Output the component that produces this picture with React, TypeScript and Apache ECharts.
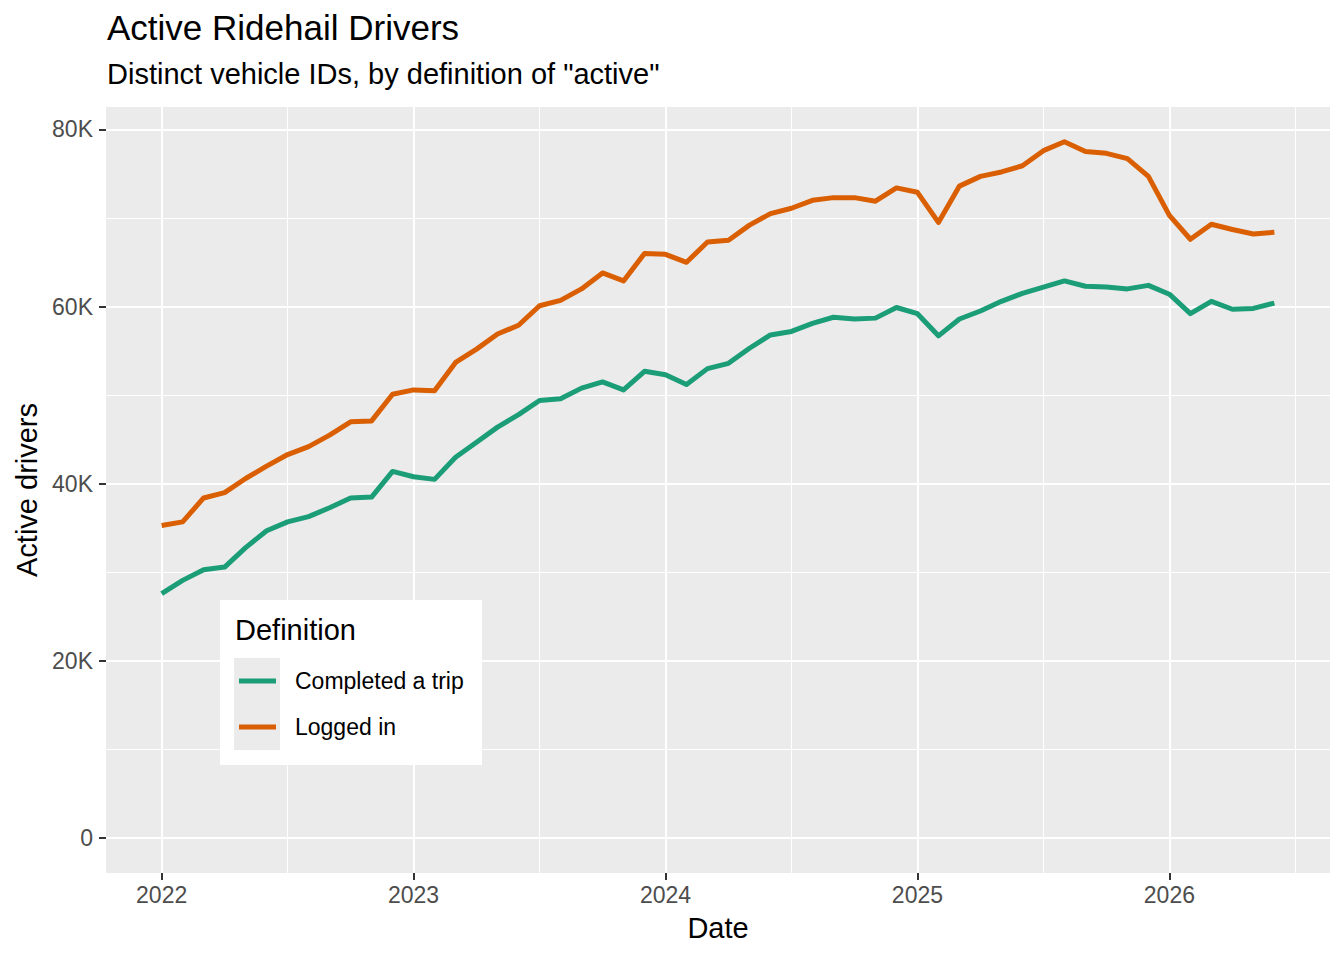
import React, { useEffect, useRef } from "react";
import * as echarts from "echarts";

const FONT = "'Liberation Sans', Arial, Helvetica, sans-serif";

// monthly observations, Jan 2022 .. Jun 2026
const months = [
  "2022-01", "2022-02", "2022-03", "2022-04", "2022-05", "2022-06",
  "2022-07", "2022-08", "2022-09", "2022-10", "2022-11", "2022-12",
  "2023-01", "2023-02", "2023-03", "2023-04", "2023-05", "2023-06",
  "2023-07", "2023-08", "2023-09", "2023-10", "2023-11", "2023-12",
  "2024-01", "2024-02", "2024-03", "2024-04", "2024-05", "2024-06",
  "2024-07", "2024-08", "2024-09", "2024-10", "2024-11", "2024-12",
  "2025-01", "2025-02", "2025-03", "2025-04", "2025-05", "2025-06",
  "2025-07", "2025-08", "2025-09", "2025-10", "2025-11", "2025-12",
  "2026-01", "2026-02", "2026-03", "2026-04", "2026-05", "2026-06",
];

const completedTrip = [
  27600, 29100, 30300, 30600, 32800, 34700, 35700, 36300, 37300, 38400, 38500, 41400,
  40800, 40500, 43000, 44700, 46400, 47800, 49400, 49600, 50800, 51500, 50600, 52700,
  52300, 51200, 53000, 53600, 55300, 56800, 57200, 58100, 58800, 58600, 58700, 59900,
  59200, 56700, 58600, 59500, 60600, 61500, 62200, 62900, 62300, 62200, 62000, 62400,
  61400, 59200, 60600, 59700, 59800, 60400,
];

const loggedIn = [
  35300, 35700, 38400, 39000, 40600, 42000, 43300, 44200, 45500, 47000, 47100, 50100,
  50600, 50500, 53700, 55200, 56900, 57900, 60100, 60700, 62000, 63800, 62900, 66000,
  65900, 65000, 67300, 67500, 69200, 70500, 71100, 72000, 72300, 72300, 71900, 73400,
  72900, 69500, 73600, 74700, 75200, 75900, 77600, 78600, 77500, 77300, 76700, 74700,
  70300, 67600, 69300, 68700, 68200, 68400,
];

const yearTicks = [0, 12, 24, 36, 48];
const halfYearTicks = [6, 18, 30, 42, 54];
const yTicks = [0, 20000, 40000, 60000, 80000];
const yMinorTicks = [10000, 30000, 50000, 70000];

const X_MIN = -2.65;
const X_MAX = 55.65;
const Y_MIN = -3930;
const Y_MAX = 82530;

const App: React.FC = () => {
  const chartRef = useRef<HTMLDivElement>(null);

  useEffect(() => {
    if (!chartRef.current) return;
    const chart = echarts.init(chartRef.current, undefined, { renderer: "svg" });

    // x position = month index into `months`
    const toPairs = (vals: number[]) => vals.map((v, i) => [i, v]);

    const option: echarts.EChartsOption = {
      animation: false,
      backgroundColor: "#FFFFFF",
      textStyle: { fontFamily: FONT },
      title: [
        {
          text: "Active Ridehail Drivers",
          left: 107,
          top: 10,
          padding: 0,
          textStyle: { fontSize: 35, fontWeight: "normal", color: "#000000", fontFamily: FONT },
        },
        {
          text: 'Distinct vehicle IDs, by definition of "active"',
          left: 107,
          top: 59,
          padding: 0,
          textStyle: { fontSize: 29, fontWeight: "normal", color: "#000000", fontFamily: FONT },
        },
      ],
      grid: {
        left: 106,
        right: 14,
        top: 107,
        bottom: 87,
        show: true,
        backgroundColor: "#EBEBEB",
        borderWidth: 0,
      },
      xAxis: [
        {
          type: "value",
          min: X_MIN,
          max: X_MAX,
          name: "Date",
          nameLocation: "middle",
          nameGap: 40,
          nameTextStyle: { fontSize: 29, color: "#000000", fontFamily: FONT },
          axisLine: { show: false, onZero: false },
          axisTick: { show: true, length: 7, customValues: yearTicks, lineStyle: { color: "#333333", width: 2 } },
          axisLabel: {
            customValues: yearTicks,
            margin: 10,
            fontSize: 23,
            color: "#4D4D4D",
            fontFamily: FONT,
            formatter: (v: number) => months[Math.round(v)].slice(0, 4),
          },
          splitLine: { show: true, lineStyle: { color: "#FFFFFF", width: 2 } },
        },
        {
          type: "value",
          min: X_MIN,
          max: X_MAX,
          position: "top",
          axisLine: { show: false, onZero: false },
          axisTick: { show: false, customValues: halfYearTicks },
          axisLabel: { show: false },
          splitLine: { show: true, lineStyle: { color: "#FFFFFF", width: 1 } },
        },
      ],
      yAxis: [
        {
          type: "value",
          min: Y_MIN,
          max: Y_MAX,
          name: "Active drivers",
          nameLocation: "middle",
          nameGap: 62,
          nameRotate: 90,
          nameTextStyle: { fontSize: 29, color: "#000000", fontFamily: FONT },
          axisLine: { show: false, onZero: false },
          axisTick: { show: true, length: 7, customValues: yTicks, lineStyle: { color: "#333333", width: 2 } },
          axisLabel: {
            customValues: yTicks,
            margin: 13,
            fontSize: 23,
            color: "#4D4D4D",
            fontFamily: FONT,
            formatter: (v: number) => (v === 0 ? "0" : `${Math.round(v / 1000)}K`),
          },
          splitLine: { show: true, lineStyle: { color: "#FFFFFF", width: 2 } },
        },
        {
          type: "value",
          min: Y_MIN,
          max: Y_MAX,
          position: "right",
          axisLine: { show: false, onZero: false },
          axisTick: { show: false, customValues: yMinorTicks },
          axisLabel: { show: false },
          splitLine: { show: true, lineStyle: { color: "#FFFFFF", width: 1 } },
        },
      ],
      legend: {
        orient: "vertical",
        left: 239,
        top: 658,
        padding: 0,
        itemGap: 0,
        itemWidth: 37,
        itemHeight: 5,
        icon: "rect",
        z: 10,
        textStyle: {
          fontSize: 23,
          color: "#000000",
          fontFamily: FONT,
          lineHeight: 46,
          padding: [0, 0, 0, 14],
        },
        data: ["Completed a trip", "Logged in"],
      },
      graphic: [
        {
          type: "rect",
          z: 5,
          shape: { x: 220, y: 600, width: 262, height: 165 },
          style: { fill: "#FFFFFF" },
        },
        {
          type: "rect",
          z: 6,
          shape: { x: 234, y: 658, width: 46, height: 92 },
          style: { fill: "#EBEBEB" },
        },
        {
          type: "text",
          z: 6,
          x: 235,
          y: 630,
          style: {
            text: "Definition",
            fontSize: 29,
            fontFamily: FONT,
            fill: "#000000",
            verticalAlign: "middle",
            align: "left",
          },
        },
      ],
      series: [
        {
          name: "Completed a trip",
          type: "line",
          xAxisIndex: 0,
          yAxisIndex: 0,
          data: toPairs(completedTrip),
          showSymbol: false,
          symbol: "none",
          color: "#1B9E77",
          lineStyle: { color: "#1B9E77", width: 5, join: "round" },
          itemStyle: { color: "#1B9E77" },
        },
        {
          name: "Logged in",
          type: "line",
          xAxisIndex: 0,
          yAxisIndex: 0,
          data: toPairs(loggedIn),
          showSymbol: false,
          symbol: "none",
          color: "#D95F02",
          lineStyle: { color: "#D95F02", width: 5, join: "round" },
          itemStyle: { color: "#D95F02" },
        },
      ],
    };

    chart.setOption(option);
    return () => {
      chart.dispose();
    };
  }, []);

  return (
    <div
      ref={chartRef}
      style={{ position: "absolute", left: 0, top: 0, width: "1344px", height: "960px" }}
    />
  );
};

export default App;
